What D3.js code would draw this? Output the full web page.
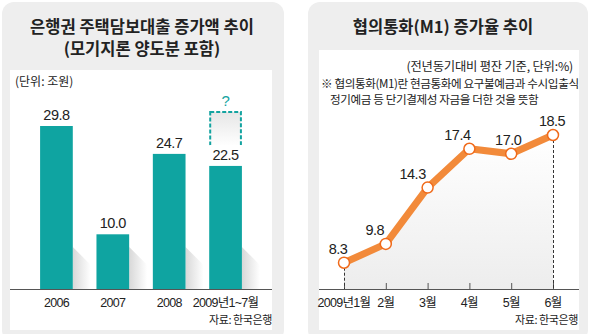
<!DOCTYPE html>
<html>
<head>
  <meta charset="utf-8">
  <script src="https://cdn.jsdelivr.net/npm/d3@7"></script>
  <style>
    body { margin: 0; background: #fff; }
    text { font-family: "Liberation Sans", "Noto Sans CJK KR", sans-serif; fill: #222; }
    .kr { font-family: "Noto Sans CJK KR", sans-serif; }
  </style>
</head>
<body>
<script>
  // Data: left chart (주택담보대출 증가액, 조원)
  const loanYears = ["2006", "2007", "2008", "2009년1~7월"];
  const loanValues = [29.8, 10.0, 24.7, 22.5];

  // Data: right chart (M1 증가율, %)
  const m1Months = ["2009년1월", "2월", "3월", "4월", "5월", "6월"];
  const m1Values = [8.3, 9.8, 14.3, 17.4, 17.0, 18.5];

  const svg = d3.select("body").append("svg")
    .attr("width", 590).attr("height", 334);

  const defs = svg.append("defs");
  const g1 = defs.append("linearGradient").attr("id", "shadow").attr("x1", 0).attr("x2", 1).attr("y1", 0).attr("y2", 0);
  g1.append("stop").attr("offset", "0%").attr("stop-color", "#d8d8d8");
  g1.append("stop").attr("offset", "100%").attr("stop-color", "#ffffff");
  const g2 = defs.append("linearGradient").attr("id", "area").attr("x1", 0).attr("x2", 0).attr("y1", 0).attr("y2", 1);
  g2.append("stop").attr("offset", "0%").attr("stop-color", "#ffffff");
  g2.append("stop").attr("offset", "100%").attr("stop-color", "#ededed");
  const g3 = defs.append("linearGradient").attr("id", "qbox").attr("x1", 0).attr("x2", 0).attr("y1", 0).attr("y2", 1);
  g3.append("stop").attr("offset", "0%").attr("stop-color", "#e6e6e6");
  g3.append("stop").attr("offset", "100%").attr("stop-color", "#ffffff");

  // Panels
  svg.append("rect").attr("x", 2).attr("y", 2).attr("width", 282).attr("height", 340)
    .attr("rx", 12).attr("fill", "#eeeeee");
  svg.append("rect").attr("x", 10).attr("y", 70).attr("width", 262).attr("height", 260).attr("fill", "#fff");
  svg.append("rect").attr("x", 308).attr("y", 2).attr("width", 280).attr("height", 340)
    .attr("rx", 12).attr("fill", "#eeeeee");
  svg.append("rect").attr("x", 319).attr("y", 50).attr("width", 260).attr("height", 280).attr("fill", "#fff");

  // ---------- Left: bar chart ----------
  const base1 = 289;
  const x1 = d3.scaleBand().domain(loanYears).range([26, 256]).paddingInner(0.42).paddingOuter(0.25);
  const y1 = d3.scaleLinear().domain([0, 29.8]).range([base1, 126]);

  svg.append("text").attr("class", "kr").attr("x", 142).attr("y", 33)
    .attr("text-anchor", "middle").attr("font-size", 16.5).attr("font-weight", "bold")
    .text("은행권 주택담보대출 증가액 추이");
  svg.append("text").attr("class", "kr").attr("x", 142).attr("y", 55)
    .attr("text-anchor", "middle").attr("font-size", 16.5).attr("font-weight", "bold")
    .text("(모기지론 양도분 포함)");
  svg.append("text").attr("class", "kr").attr("x", 15).attr("y", 86)
    .attr("font-size", 12).text("(단위: 조원)");

  // shadows
  svg.selectAll(".shadow").data(loanValues).enter().append("polygon")
    .attr("points", (d, i) => {
      const r = x1(loanYears[i]) + x1.bandwidth();
      return [[r, base1 - 42], [r + 18, base1 - 24], [r + 18, base1], [r, base1]].map(p => p.join(",")).join(" ");
    })
    .attr("fill", "url(#shadow)");

  // dashed "?" box above last bar
  const last = loanYears[loanYears.length - 1];
  svg.append("rect").attr("x", x1(last) + 1).attr("y", 112)
    .attr("width", x1.bandwidth() - 2).attr("height", 34)
    .attr("fill", "url(#qbox)").attr("stroke", "#13a3a0").attr("stroke-width", 2)
    .attr("stroke-dasharray", "4,2");
  svg.append("rect").attr("x", x1(last)).attr("y", 145)
    .attr("width", x1.bandwidth()).attr("height", 6).attr("fill", "#fff");
  svg.append("text").attr("x", x1(last) + x1.bandwidth() / 2).attr("y", 106)
    .attr("text-anchor", "middle").attr("font-size", 15).style("fill", "#13a3a0").text("?");

  svg.selectAll(".bar").data(loanValues).enter().append("rect")
    .attr("x", (d, i) => x1(loanYears[i]))
    .attr("y", d => y1(d))
    .attr("width", x1.bandwidth())
    .attr("height", d => base1 - y1(d))
    .attr("fill", "#0fa4a1");

  svg.selectAll(".val1").data(loanValues).enter().append("text")
    .attr("x", (d, i) => x1(loanYears[i]) + x1.bandwidth() / 2)
    .attr("y", d => y1(d) - 6)
    .attr("text-anchor", "middle").attr("font-size", 14.5).attr("letter-spacing", -0.5)
    .text(d => d.toFixed(1));

  svg.append("line").attr("x1", 10).attr("x2", 272).attr("y1", base1 + 0.5).attr("y2", base1 + 0.5)
    .attr("stroke", "#555").attr("stroke-width", 1);

  svg.selectAll(".xl1").data(loanYears).enter().append("text")
    .attr("x", d => x1(d) + x1.bandwidth() / 2)
    .attr("y", 307)
    .attr("text-anchor", "middle").attr("font-size", 12.5).attr("letter-spacing", -0.7)
    .text(d => d);
  svg.append("text").attr("class", "kr").attr("x", 272).attr("y", 324)
    .attr("text-anchor", "end").attr("font-size", 11).attr("letter-spacing", -0.4).text("자료: 한국은행");

  // ---------- Right: line chart ----------
  const base2 = 289;
  const x2 = d3.scalePoint().domain(m1Months).range([344, 553]);
  const y2 = d3.scaleLinear().domain([6.2, 18.5]).range([base2, 135]);

  svg.append("text").attr("class", "kr").attr("x", 443).attr("y", 33)
    .attr("text-anchor", "middle").attr("font-size", 16.5).attr("font-weight", "bold")
    .text("협의통화(M1) 증가율 추이");
  svg.append("text").attr("class", "kr").attr("x", 573).attr("y", 71)
    .attr("text-anchor", "end").attr("font-size", 12.3).attr("letter-spacing", -0.2).text("(전년동기대비 평잔 기준, 단위:%)");
  svg.append("text").attr("class", "kr").attr("x", 321).attr("y", 88)
    .attr("font-size", 11.6).attr("letter-spacing", -0.4).text("※ 협의통화(M1)란 현금통화에 요구불예금과 수시입출식");
  svg.append("text").attr("class", "kr").attr("x", 330).attr("y", 104)
    .attr("font-size", 11.6).attr("letter-spacing", -0.4).text("정기예금 등 단기결제성 자금을 더한 것을 뜻함");

  const area = d3.area()
    .x((d, i) => x2(m1Months[i]))
    .y0(base2).y1(d => y2(d));
  svg.append("path").datum(m1Values).attr("d", area).attr("fill", "url(#area)");

  svg.append("line").attr("x1", 319).attr("x2", 579).attr("y1", base2 + 0.5).attr("y2", base2 + 0.5)
    .attr("stroke", "#555").attr("stroke-width", 1);

  svg.selectAll(".tick2").data(m1Months).enter().append("line")
    .attr("x1", d => x2(d) + 0.5).attr("x2", d => x2(d) + 0.5)
    .attr("y1", base2 - 6).attr("y2", base2)
    .attr("stroke", "#555");

  // dashed drop lines at first and last point
  [0, m1Values.length - 1].forEach(i => {
    svg.append("line")
      .attr("x1", x2(m1Months[i]) + 0.5).attr("x2", x2(m1Months[i]) + 0.5)
      .attr("y1", y2(m1Values[i])).attr("y2", base2)
      .attr("stroke", "#333").attr("stroke-dasharray", "3,2");
  });

  const line = d3.line().x((d, i) => x2(m1Months[i])).y(d => y2(d));
  svg.append("path").datum(m1Values).attr("d", line)
    .attr("fill", "none").attr("stroke", "#f28a3a").attr("stroke-width", 7)
    .attr("stroke-linejoin", "round");

  svg.selectAll(".pt").data(m1Values).enter().append("circle")
    .attr("cx", (d, i) => x2(m1Months[i]))
    .attr("cy", d => y2(d))
    .attr("r", 5.5)
    .attr("fill", "#fff").attr("stroke", "#f06a1a").attr("stroke-width", 1.5);

  const labelDx = [-6, -11, -15, -12, -3, -1];
  svg.selectAll(".val2").data(m1Values).enter().append("text")
    .attr("x", (d, i) => x2(m1Months[i]) + labelDx[i])
    .attr("y", d => y2(d) - 9)
    .attr("text-anchor", "middle").attr("font-size", 14.5).attr("letter-spacing", -0.5)
    .text(d => d.toFixed(1));

  svg.selectAll(".xl2").data(m1Months).enter().append("text")
    .attr("x", d => x2(d))
    .attr("y", 307)
    .attr("text-anchor", "middle").attr("font-size", 12.5).attr("letter-spacing", -0.7)
    .text(d => d);
  svg.append("text").attr("class", "kr").attr("x", 578).attr("y", 324)
    .attr("text-anchor", "end").attr("font-size", 11).attr("letter-spacing", -0.4).text("자료: 한국은행");
</script>
</body>
</html>
